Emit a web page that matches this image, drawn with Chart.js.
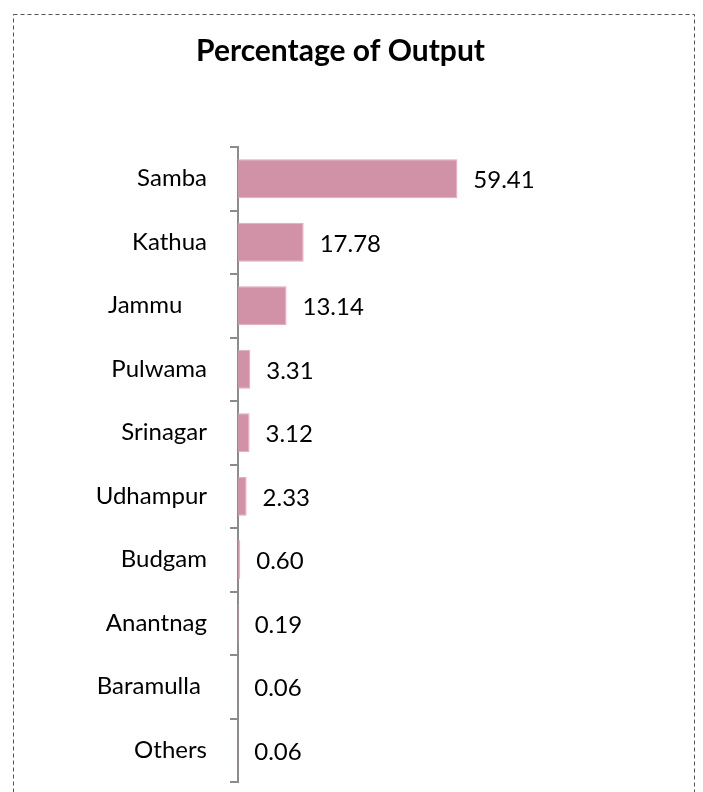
<!DOCTYPE html>
<html>
<head>
<meta charset="utf-8">
<script src="https://cdn.jsdelivr.net/npm/chart.js@4"></script>
<style>
  html, body { margin: 0; padding: 0; background: #fff; }
  #wrap { position: absolute; left: 0; top: 0; width: 703px; height: 792px; }
</style>
</head>
<body>
<div id="wrap"><canvas id="outputChart" width="703" height="792"></canvas></div>
<script>
// districts and their share of output (%)
const districts = ['Samba', 'Kathua', 'Jammu    ', 'Pulwama', 'Srinagar', 'Udhampur', 'Budgam', 'Anantnag', 'Baramulla ', 'Others'];
const shares = [59.41, 17.78, 13.14, 3.31, 3.12, 2.33, 0.60, 0.19, 0.06, 0.06];
const shareLabels = ['59.41', '17.78', '13.14', '3.31', '3.12', '2.33', '0.60', '0.19', '0.06', '0.06'];

const FONT = 'Lato, "Open Sans", sans-serif';

// dashed frame round the whole chart
const frame = {
  id: 'frame',
  beforeDraw(chart) {
    const c = chart.ctx;
    c.save();
    c.strokeStyle = '#555';
    c.lineWidth = 1;
    c.setLineDash([4, 3]);
    c.strokeRect(13.5, 14.5, 681, 800);
    c.restore();
  }
};

// value text to the right of each bar
const valueLabels = {
  id: 'valueLabels',
  afterDatasetsDraw(chart) {
    const c = chart.ctx;
    const meta = chart.getDatasetMeta(0);
    c.save();
    c.font = '24px ' + FONT;
    c.fillStyle = '#000';
    c.textBaseline = 'middle';
    c.textAlign = 'left';
    meta.data.forEach((bar, i) => {
      c.fillText(shareLabels[i], bar.x + 16, bar.y + 2);
    });
    c.restore();
  }
};

new Chart(document.getElementById('outputChart').getContext('2d'), {
  type: 'bar',
  data: {
    labels: districts,
    datasets: [{
      data: shares,
      backgroundColor: 'rgb(209, 146, 168)',
      borderColor: 'rgb(222, 170, 188)',
      borderWidth: 1,
      categoryPercentage: 0.8,
      barPercentage: 0.77
    }]
  },
  options: {
    indexAxis: 'y',
    responsive: false,
    animation: false,
    layout: { padding: { left: 0, right: 22, top: 0, bottom: 10 } },
    plugins: {
      legend: { display: false },
      tooltip: { enabled: false },
      title: {
        display: true,
        text: 'Percentage of Output',
        color: '#000',
        font: { family: FONT, size: 30, weight: 'bold' },
        padding: { top: 33, bottom: 78 }
      }
    },
    scales: {
      x: { display: false, min: 0, max: 120 },
      y: {
        afterFit(scale) {
          scale.width = 238;
          scale.paddingTop = 0;
          scale.paddingBottom = 0;
        },
        border: { display: true, color: '#8c8c8c', width: 2 },
        grid: { drawOnChartArea: false, tickLength: 8, color: '#8c8c8c', lineWidth: 2, offset: true },
        ticks: { color: '#000', padding: 23, font: { family: FONT, size: 24 } }
      }
    }
  },
  plugins: [frame, valueLabels]
});
</script>
</body>
</html>
